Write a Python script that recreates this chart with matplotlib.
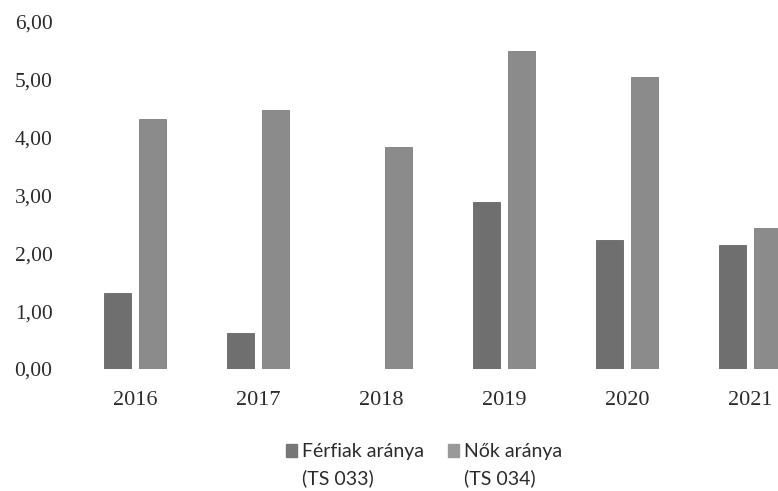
import matplotlib
matplotlib.use("Agg")
import matplotlib.pyplot as plt
import numpy as np
from matplotlib.patches import Patch

years = ["2016", "2017", "2018", "2019", "2020", "2021"]
ferfiak = [1.31, 0.62, 0.0, 2.88, 2.22, 2.14]
nok = [4.32, 4.48, 3.84, 5.50, 5.05, 2.43]
series_labels = ["Férfiak aránya\n(TS 033)", "Nők aránya\n(TS 034)"]
yticks = [0, 1, 2, 3, 4, 5, 6]

c_f = "#6f6f6f"
c_n = "#8b8b8b"
txt = "#2b2b2b"

plt.rcParams['font.family'] = ['Lato', 'DejaVu Sans']

fig = plt.figure(figsize=(7.78, 4.91), dpi=100)
ax = fig.add_axes([0.0944, 0.2485, 0.9493, 0.7073])

x = np.arange(len(years))
w = 0.22
off = 0.1425
ax.bar(x - off, ferfiak, width=w, color=c_f, edgecolor="#666666", linewidth=0.6)
ax.bar(x + off, nok, width=w, color=c_n, edgecolor="#7e7e7e", linewidth=0.6)

ax.set_xlim(-0.5, 5.5)
ax.set_ylim(0, 6)
ax.set_yticks(yticks)
ax.set_yticklabels([f"{v:.2f}".replace(".", ",") for v in yticks],
                   fontsize=15.5, color=txt, family=['Liberation Serif', 'DejaVu Serif'])
ax.set_xticks(x)
ax.set_xticklabels(years, fontsize=16, color=txt, family=['Liberation Serif', 'DejaVu Serif'])
ax.tick_params(axis="y", length=0, pad=15)
ax.tick_params(axis="x", length=0, pad=16)
for s in ax.spines.values():
    s.set_visible(False)

first_lines = [s.split("\n")[0] for s in series_labels]
second_lines = [s.split("\n")[1] for s in series_labels]
handles = [Patch(facecolor="#777777", edgecolor="#777777"),
           Patch(facecolor="#999999", edgecolor="#999999")]
leg = fig.legend(handles, first_lines, loc="center", bbox_to_anchor=(424 / 778, 1 - 452 / 491),
                 ncol=2, frameon=False, fontsize=14, handlelength=0.6, handleheight=0.6,
                 handletextpad=0.25, columnspacing=1.2, labelcolor=txt, borderpad=0)

fig.canvas.draw()
W, H = fig.bbox.width, fig.bbox.height
for t, s2 in zip(leg.get_texts(), second_lines):
    bb = t.get_window_extent()
    fig.text(bb.x0 / W, (bb.y0 - 26 + bb.height / 2) / H, s2, fontsize=14, color=txt,
             ha="left", va="center")

fig.savefig("out.png", dpi=100)
